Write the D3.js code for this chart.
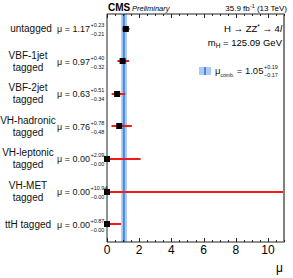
<!DOCTYPE html>
<html>
<head>
<meta charset="utf-8">
<script src="https://cdn.jsdelivr.net/npm/d3@7"></script>
<style>
  body { margin: 0; background: #fff; }
  svg { font-family: "Liberation Sans", Arial, sans-serif; }
</style>
</head>
<body>
<script>
const width = 293,
  height = 278;

// categories (two-line labels split with "|")
const categories = [
  "untagged",
  "VBF-1jet|tagged",
  "VBF-2jet|tagged",
  "VH-hadronic|tagged",
  "VH-leptonic|tagged",
  "VH-MET|tagged",
  "ttH tagged",
];
const muValues = [1.17, 0.97, 0.63, 0.76, 0.0, 0.0, 0.0];
const errUp = [0.23, 0.4, 0.51, 0.78, 2.09, 10.94, 0.87];
const errDown = [0.21, 0.32, 0.34, 0.48, 0.0, 0.0, 0.0];

const muComb = 1.05,
  combUp = 0.19,
  combDown = 0.17;

const xTicks = [0, 2, 4, 6, 8, 10];

const frame = { left: 107, right: 284, top: 14, bottom: 242 };

const svg = d3
  .select("body")
  .append("svg")
  .attr("width", width)
  .attr("height", height);

const x = d3.scaleLinear().domain([0, 11]).range([frame.left, frame.right]);
const y = d3
  .scaleLinear()
  .domain([-0.45, 6.55])
  .range([frame.top, frame.bottom]);

const rows = categories.map((c, i) => ({
  label: c,
  mu: muValues[i],
  up: errUp[i],
  down: errDown[i],
  i,
}));

// combined band
svg
  .append("rect")
  .attr("x", x(muComb - combDown))
  .attr("y", frame.top)
  .attr("width", x(muComb + combUp) - x(muComb - combDown))
  .attr("height", frame.bottom - frame.top)
  .attr("fill", "#a9cbf6");
svg
  .append("line")
  .attr("x1", x(muComb))
  .attr("x2", x(muComb))
  .attr("y1", frame.top)
  .attr("y2", frame.bottom)
  .attr("stroke", "#4f86e6")
  .attr("stroke-width", 2);

// error bars
svg
  .selectAll(".err")
  .data(rows)
  .enter()
  .append("line")
  .attr("class", "err")
  .attr("x1", (d) => x(d.mu - d.down))
  .attr("x2", (d) => Math.min(x(d.mu + d.up), frame.right))
  .attr("y1", (d) => Math.round(y(d.i)))
  .attr("y2", (d) => Math.round(y(d.i)))
  .attr("stroke", "#f01c1c")
  .attr("stroke-width", 2);

// markers
svg
  .selectAll(".dot")
  .data(rows)
  .enter()
  .append("rect")
  .attr("class", "dot")
  .attr("x", (d) => x(d.mu) - 3)
  .attr("y", (d) => Math.round(y(d.i)) - 3)
  .attr("width", 6)
  .attr("height", 6)
  .attr("fill", "#000");

// frame
const axisG = svg.append("g");
axisG
  .append("path")
  .attr(
    "d",
    `M${frame.right},${frame.top}H${frame.left}V${frame.bottom}H${frame.right}`
  )
  .attr("fill", "none")
  .attr("stroke", "#222")
  .attr("stroke-width", 1);
axisG
  .append("line")
  .attr("x1", frame.right)
  .attr("x2", frame.right)
  .attr("y1", frame.top - 0.5)
  .attr("y2", frame.bottom + 0.5)
  .attr("stroke", "#808080")
  .attr("stroke-width", 2);

// ticks top and bottom
const minor = d3.range(0, 11.01, 0.5);
const tickLen = (v) => (v % 2 === 0 ? 4 : 2);
axisG
  .selectAll(".tb")
  .data(minor)
  .enter()
  .append("line")
  .attr("x1", (d) => Math.round(x(d)) + 0.5)
  .attr("x2", (d) => Math.round(x(d)) + 0.5)
  .attr("y1", frame.bottom)
  .attr("y2", (d) => frame.bottom - tickLen(d))
  .attr("stroke", "#222");
axisG
  .selectAll(".tt")
  .data(minor)
  .enter()
  .append("line")
  .attr("x1", (d) => Math.round(x(d)) + 0.5)
  .attr("x2", (d) => Math.round(x(d)) + 0.5)
  .attr("y1", frame.top)
  .attr("y2", (d) => frame.top + tickLen(d))
  .attr("stroke", "#222");

axisG
  .selectAll(".tl")
  .data(xTicks)
  .enter()
  .append("text")
  .attr("x", (d) => x(d))
  .attr("y", 254)
  .attr("text-anchor", "middle")
  .attr("font-size", 12)
  .text((d) => d);

svg
  .append("text")
  .attr("x", 283)
  .attr("y", 272)
  .attr("text-anchor", "end")
  .attr("font-size", 12)
  .text("μ");

// category labels
const labels = svg
  .selectAll(".cat")
  .data(rows)
  .enter()
  .append("text")
  .attr("class", "cat")
  .attr("text-anchor", "middle")
  .attr("font-size", 10)
  .attr("fill", "#111");
labels.each(function (d) {
  const parts = d.label.split("|");
  const t = d3.select(this);
  const y0 = y(d.i) + 3.5 - (parts.length - 1) * 6;
  parts.forEach((p, k) => {
    t.append("tspan")
      .attr("x", d.i === 0 ? 31 : 28)
      .attr("y", y0 + k * 12)
      .text(p);
  });
});

// mu values, with the errors placed after the measured main text
const fmt = d3.format(".2f");
const muText = svg
  .selectAll(".mu")
  .data(rows)
  .enter()
  .append("g")
  .attr("class", "mu")
  .attr("transform", (d) => `translate(57,${y(d.i) + 3.5})`);
muText.each(function (d) {
  const g = d3.select(this);
  const main = g
    .append("text")
    .attr("font-size", 9)
    .attr("fill", "#111")
    .text(`μ = ${fmt(d.mu)}`);
  const w = main.node().getComputedTextLength();
  g.append("text")
    .attr("x", w + 0.5)
    .attr("y", -5)
    .attr("font-size", 5.5)
    .attr("fill", "#111")
    .text(`+${fmt(d.up)}`);
  g.append("text")
    .attr("x", w + 0.5)
    .attr("y", 4)
    .attr("font-size", 5.5)
    .attr("fill", "#111")
    .text(`−${fmt(d.down)}`);
});

// header
svg
  .append("text")
  .attr("x", 108)
  .attr("y", 11)
  .attr("font-size", 10)
  .attr("font-weight", "bold")
  .text("CMS");
svg
  .append("text")
  .attr("x", 132)
  .attr("y", 11)
  .attr("font-size", 7.5)
  .attr("font-style", "italic")
  .text("Preliminary");
const lumi = svg
  .append("text")
  .attr("x", 287)
  .attr("y", 11)
  .attr("text-anchor", "end")
  .attr("font-size", 8);
lumi.append("tspan").text("35.9 fb");
lumi.append("tspan").attr("dy", -3).attr("font-size", 5.5).text("-1");
lumi.append("tspan").attr("dy", 3).text(" (13 TeV)");

// process and mass
svg
  .append("text")
  .attr("x", 282)
  .attr("y", 32)
  .attr("text-anchor", "end")
  .attr("font-size", 9.5)
  .html('H → ZZ<tspan dy="-3" font-size="6.5">*</tspan><tspan dy="3"> → 4</tspan><tspan font-style="italic">l</tspan>');
svg
  .append("text")
  .attr("x", 282)
  .attr("y", 46)
  .attr("text-anchor", "end")
  .attr("font-size", 9.5)
  .html('m<tspan dy="2" font-size="6.5">H</tspan><tspan dy="-2"> = 125.09 GeV</tspan>');

// legend
const leg = svg.append("g").attr("transform", "translate(199,67)");
leg
  .append("rect")
  .attr("width", 12)
  .attr("height", 8)
  .attr("fill", "#a9cbf6");
leg
  .append("line")
  .attr("x1", 6)
  .attr("x2", 6)
  .attr("y1", 0)
  .attr("y2", 8)
  .attr("stroke", "#4f86e6")
  .attr("stroke-width", 2);
const legText = leg
  .append("text")
  .attr("x", 16)
  .attr("y", 7)
  .attr("font-size", 9.5)
  .attr("fill", "#111");
legText.append("tspan").text("μ");
legText.append("tspan").attr("dy", 3).attr("font-size", 5).text("comb.");
legText.append("tspan").attr("dy", -3).text(` = ${fmt(muComb)}`);
const legW = 16 + legText.node().getComputedTextLength();
leg
  .append("text")
  .attr("x", legW + 0.5)
  .attr("y", 2)
  .attr("font-size", 5.5)
  .attr("fill", "#111")
  .text(`+${fmt(combUp)}`);
leg
  .append("text")
  .attr("x", legW + 0.5)
  .attr("y", 10)
  .attr("font-size", 5.5)
  .attr("fill", "#111")
  .text(`−${fmt(combDown)}`);
</script>
</body>
</html>
